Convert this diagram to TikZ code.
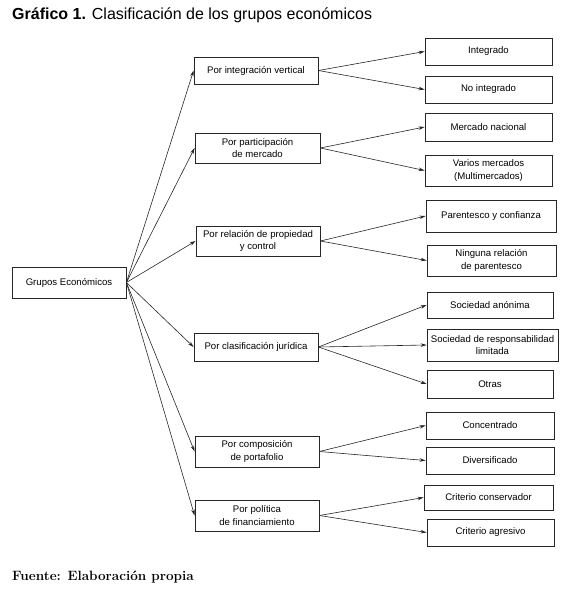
\documentclass[tikz,border=0pt]{standalone}
\usepackage{fontspec}
\setmainfont{Latin Modern Roman}
\newfontfamily\hv{Liberation Sans}
\usetikzlibrary{arrows.meta}
\begin{document}
\begin{tikzpicture}[x=1pt,y=-1pt,
  bx/.style={draw=black!85,line width=0.8pt,inner sep=1pt,align=center,font=\hv\fontsize{9.6}{12.5}\selectfont},
  arr/.style={draw=black!85,line width=0.6pt,-{Stealth[length=6pt,width=3.5pt]}}]
\useasboundingbox (0,0) rectangle (569,592);
\node[anchor=west,inner sep=0] (title) at (12,15) {\hv\fontsize{16}{18}\selectfont\textbf{Gráfico 1.} Clasificación de los grupos económicos};
\node[anchor=west,inner sep=0] (fuente) at (12,577) {\fontsize{13.5}{15}\selectfont\textbf{Fuente: Elaboración propia}};
\node[bx,minimum width=114pt,minimum height=31pt] (g) at (69,282.5) {Grupos Económicos};
\node[bx,minimum width=124pt,minimum height=27pt] (m1) at (256,70.5) {Por integración vertical};
\node[bx,minimum width=125pt,minimum height=30pt] (m2) at (257.5,148) {Por participación\\de mercado};
\node[bx,minimum width=124pt,minimum height=30pt] (m3) at (258,241) {Por relación de propiedad\\y control};
\node[bx,minimum width=124pt,minimum height=28pt] (m4) at (256,347) {Por clasificación jurídica};
\node[bx,minimum width=124pt,minimum height=31pt] (m5) at (257,451.5) {Por composición\\de portafolio};
\node[bx,minimum width=124pt,minimum height=31pt] (m6) at (257,515.5) {Por política\\de financiamiento};
\node[bx,minimum width=127pt,minimum height=27pt] (r1) at (488.5,51.5) {Integrado};
\node[bx,minimum width=127pt,minimum height=27pt] (r2) at (488.5,89.5) {No integrado};
\node[bx,minimum width=127pt,minimum height=28pt] (r3) at (488.5,127) {Mercado nacional};
\node[bx,minimum width=127pt,minimum height=31pt] (r4) at (488.5,170.5) {Varios mercados\\(Multimercados)};
\node[bx,minimum width=130pt,minimum height=32pt] (r5) at (491,216) {Parentesco y confianza};
\node[bx,minimum width=129pt,minimum height=31pt] (r6) at (491.5,260.5) {Ninguna relación\\de parentesco};
\node[bx,minimum width=126pt,minimum height=26pt] (r7) at (490,305) {Sociedad anónima};
\node[bx,minimum width=131pt,minimum height=32pt] (r8) at (492.5,345) {Sociedad de responsabilidad\\limitada};
\node[bx,minimum width=126pt,minimum height=28pt] (r9) at (490,384) {Otras};
\node[bx,minimum width=128pt,minimum height=27pt] (r10) at (490,425.5) {Concentrado};
\node[bx,minimum width=128pt,minimum height=27pt] (r11) at (490,460.5) {Diversificado};
\node[bx,minimum width=129pt,minimum height=25pt] (r12) at (488.5,497.5) {Criterio conservador};
\node[bx,minimum width=127pt,minimum height=27pt] (r13) at (490.5,532.5) {Criterio agresivo};
\foreach \m in {m1,m2,m3,m4,m5,m6} \draw[arr] (g.east) -- (\m.west);
\draw[arr] (m1.east) -- (r1.west);
\draw[arr] (m1.east) -- (r2.west);
\draw[arr] (m2.east) -- (r3.west);
\draw[arr] (m2.east) -- (r4.west);
\draw[arr] (m3.east) -- (r5.west);
\draw[arr] (m3.east) -- (r6.west);
\draw[arr] (m4.east) -- (r7.west);
\draw[arr] (m4.east) -- (r8.west);
\draw[arr] (m4.east) -- (r9.west);
\draw[arr] (m5.east) -- (r10.west);
\draw[arr] (m5.east) -- (r11.west);
\draw[arr] (m6.east) -- (r12.west);
\draw[arr] (m6.east) -- (r13.west);
\end{tikzpicture}
\end{document}
